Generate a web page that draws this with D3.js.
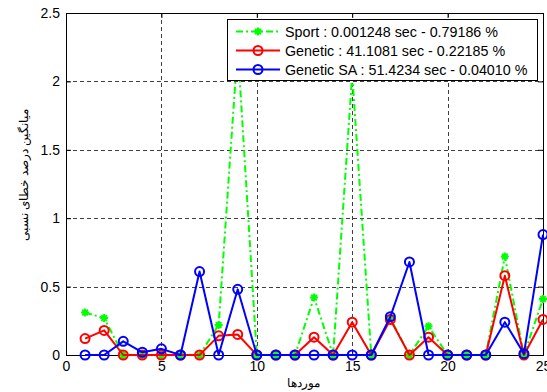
<!DOCTYPE html>
<html><head><meta charset="utf-8">
<script src="https://cdn.jsdelivr.net/npm/d3@7"></script>
<style>
body{margin:0;background:#fff;}
text{font-family:"Liberation Sans",Arial,Helvetica,sans-serif;}
</style></head>
<body>
<svg id="chart" width="547" height="392"></svg>
<script>
const cases = d3.range(1, 26);
const sport =      [0.31,0.27,0,0,0,0,0,0.22,2.25,0,0,0,0.42,0,2.05,0,0.27,0,0.21,0,0,0,0.72,0,0.41];
const genetic =    [0.12,0.18,0,0,0,0,0,0.14,0.15,0,0,0,0.13,0,0.24,0,0.26,0,0.13,0,0,0,0.58,0,0.26];
const geneticSA =  [0,0,0.10,0.02,0.045,0,0.61,0,0.48,0,0,0,0,0,0,0,0.28,0.68,0,0,0,0,0.24,0.01,0.88];
const seriesNames = ["Sport : 0.001248 sec - 0.79186 %","Genetic : 41.1081 sec - 0.22185 %","Genetic SA : 51.4234 sec - 0.04010 %"];
const seriesColors = ["#00ff00","#ff0000","#0000ff"];
const xTicks = [0,5,10,15,20,25];
const yTicks = [0,0.5,1,1.5,2,2.5];
const yLabel = "میانگین درصد خطای نسبی";
const xLabel = "موردها";

const svg = d3.select("#chart");
const L=66,R=543,T=13,B=355;
const x = d3.scaleLinear().domain([0,25]).range([L,R]);
const y = d3.scaleLinear().domain([0,2.5]).range([B,T]);

svg.append("rect").attr("x",L).attr("y",T).attr("width",R-L).attr("height",B-T).attr("fill","#fff");

// grid
const g = svg.append("g");
g.selectAll(".vg").data(xTicks.filter(d=>d>0&&d<25)).join("line")
 .attr("x1",d=>Math.round(x(d))+0.5).attr("x2",d=>Math.round(x(d))+0.5).attr("y1",T).attr("y2",B)
 .attr("stroke","#000").attr("stroke-width",1).attr("stroke-dasharray","4,3").attr("opacity",0.75);
g.selectAll(".hg").data(yTicks.filter(d=>d>0&&d<2.5)).join("line")
 .attr("y1",d=>Math.round(y(d))+0.5).attr("y2",d=>Math.round(y(d))+0.5).attr("x1",L).attr("x2",R)
 .attr("stroke","#000").attr("stroke-width",1).attr("stroke-dasharray","4,3").attr("opacity",0.75);

// axes
const fmt = d=>String(d);
const ax = svg.append("g").attr("transform",`translate(0,${B})`)
 .call(d3.axisBottom(x).tickValues(xTicks).tickFormat(fmt).tickSize(-5).tickPadding(6));
const axT = svg.append("g").attr("transform",`translate(0,${T})`)
 .call(d3.axisTop(x).tickValues(xTicks).tickFormat("").tickSize(-5));
const ay = svg.append("g").attr("transform",`translate(${L},0)`)
 .call(d3.axisLeft(y).tickValues(yTicks).tickFormat(fmt).tickSize(-5).tickPadding(6));
const ayR = svg.append("g").attr("transform",`translate(${R},0)`)
 .call(d3.axisRight(y).tickValues(yTicks).tickFormat("").tickSize(-5));
[ax,axT,ay,ayR].forEach(a=>{
  a.select(".domain").remove();
  a.selectAll("text").attr("font-size",14).attr("fill","#000").attr("font-family","'Liberation Sans',Arial,sans-serif");
  a.selectAll("line").attr("stroke","#000");
});
svg.append("rect").attr("x",L+0.5).attr("y",T+0.5).attr("width",R-L).attr("height",B-T)
 .attr("fill","none").attr("stroke","#000").attr("stroke-width",1);

// series
const data = [sport,genetic,geneticSA];
const line = d3.line().x((d,i)=>x(cases[i])).y(d=>y(d));
const starPath = r=>`M${-r},0L${r},0M0,${-r}L0,${r}M${-r*0.7},${-r*0.7}L${r*0.7},${r*0.7}M${-r*0.7},${r*0.7}L${r*0.7},${-r*0.7}`;
data.forEach((s,k)=>{
  const gs = svg.append("g");
  gs.append("path").attr("d",line(s)).attr("fill","none").attr("stroke",seriesColors[k])
   .attr("stroke-width",2).attr("stroke-dasharray",k===0?"7,3,2,3":null).attr("stroke-linejoin","round");
  if(k===0){
    gs.selectAll("path.m").data(s).join("path").attr("class","m")
     .attr("transform",(d,i)=>`translate(${x(cases[i])},${y(d)})`)
     .attr("d",starPath(4)).attr("stroke",seriesColors[k]).attr("stroke-width",2).attr("fill","none");
  } else {
    gs.selectAll("circle").data(s).join("circle")
     .attr("cx",(d,i)=>x(cases[i])).attr("cy",d=>y(d)).attr("r",4.5)
     .attr("fill","none").attr("stroke",seriesColors[k]).attr("stroke-width",2);
  }
});

// legend
const lg = svg.append("g");
lg.append("rect").attr("x",227.5).attr("y",19.5).attr("width",310).attr("height",61)
 .attr("fill","#fff").attr("stroke","#000").attr("stroke-width",1);
const rowsY = [31.5,50.5,69.5];
seriesNames.forEach((n,k)=>{
  const yy = rowsY[k];
  lg.append("line").attr("x1",236).attr("x2",280).attr("y1",yy).attr("y2",yy)
   .attr("stroke",seriesColors[k]).attr("stroke-width",2).attr("stroke-dasharray",k===0?"7,3,2,3":null);
  if(k===0){
    lg.append("path").attr("transform",`translate(258,${yy})`).attr("d",starPath(4))
     .attr("stroke",seriesColors[k]).attr("stroke-width",2);
  } else {
    lg.append("circle").attr("cx",258).attr("cy",yy).attr("r",4.5).attr("fill","none")
     .attr("stroke",seriesColors[k]).attr("stroke-width",2);
  }
  lg.append("text").attr("x",285).attr("y",yy+5).attr("font-size",14.3).attr("fill","#000").text(n);
});

// axis labels
svg.append("text").attr("transform","translate(28,175) rotate(-90)").attr("text-anchor","middle")
 .attr("font-size",11.5).attr("font-family","'DejaVu Sans',sans-serif").attr("direction","rtl").text(yLabel);
svg.append("text").attr("x",303).attr("y",387).attr("text-anchor","middle")
 .attr("font-size",11.5).attr("font-family","'DejaVu Sans',sans-serif").attr("direction","rtl").text(xLabel);
</script>
</body></html>
